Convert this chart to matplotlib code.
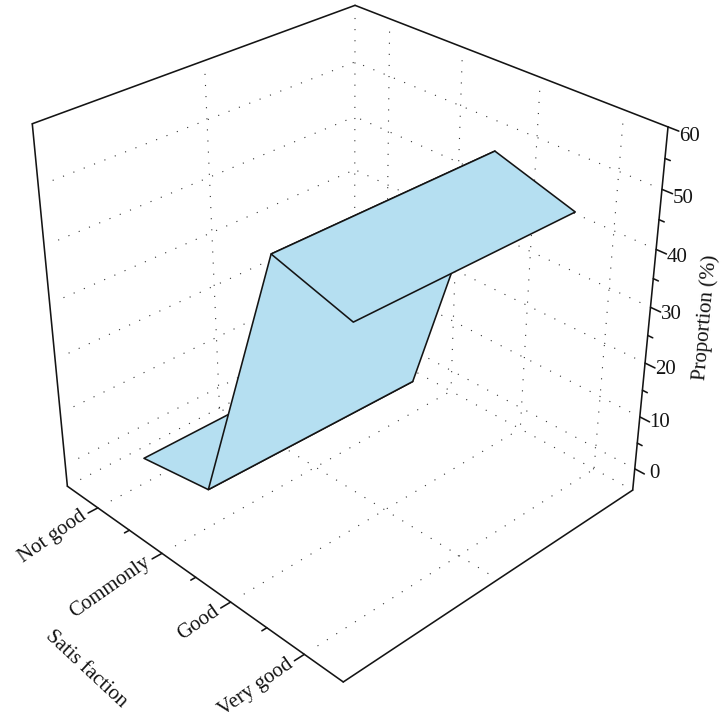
import numpy as np
import matplotlib
matplotlib.use('Agg')
import matplotlib.pyplot as plt
from mpl_toolkits.mplot3d import proj3d

plt.rcParams['font.family'] = ['Liberation Serif', 'DejaVu Serif']

# data
satisfaction = ['Not good', 'Commonly', 'Good', 'Very good']
sat_pos = [1, 2, 3, 4]
group_pos = [1, 2]
prop_group1 = [0.6, 2.9, 51.0, 47.2]
prop_group2 = [0.6, 2.2, 51.0, 46.8]
z_major = [0, 10, 20, 30, 40, 50, 60]
z_minor = [5, 15, 25, 35, 45, 55]
sat_minor = [1.5, 2.5, 3.5]

ink = '#141414'
fill = '#b5dff1'
dot_style = (0, (1, 9))

xlim = (0.786, 2.214)
y_front, y_back = 4.5, 0.5
zlim = (-4.2, 60)
xspan = xlim[1] - xlim[0]
yspan = y_front - y_back
xmid = (xlim[0] + xlim[1]) / 2

fig = plt.figure(figsize=(7.26, 7.27), dpi=100)
ax = fig.add_axes([-15.8 / 726, 44.2 / 727, 711.6 / 726, 711.6 / 727], projection='3d')
ax.computed_zorder = False
ax.set_xlim(*xlim)
ax.set_ylim(y_front, y_back)
ax.set_zlim(*zlim)
ax.set_box_aspect((1, 0.992, 0.996))
ax.set_proj_type('persp', focal_length=0.4876)
ax.view_init(31.31, -134.11)
ax.set_axis_off()


def solid(xs, ys, zs, lw=1.15):
    ax.plot(xs, ys, zs, color=ink, lw=lw, clip_on=False, zorder=3, solid_capstyle='round')


def dotted(xs, ys, zs):
    ax.plot(xs, ys, zs, color='#333333', lw=0.8, ls=dot_style, clip_on=False, zorder=1)


def label(x, y, z, s, rotation=0, ha='center'):
    # text at a 3d spot but with its own fixed angle
    px, py, _ = proj3d.proj_transform(x, y, z, ax.get_proj())
    ax.text2D(px, py, s, transform=ax.transData, rotation=rotation, ha=ha, va='center',
              rotation_mode='anchor', fontsize=15, color=ink)


# wall and floor gridlines, stopped a bit short of the outer edges
x_in = xlim[0] + 0.04 * xspan
y_in = y_front - 0.03 * yspan
z_top = zlim[1] - 2.2
for z in z_major[:-1] + [zlim[0]]:
    dotted([x_in, xlim[1]], [y_back, y_back], [z, z])
    dotted([xlim[1], xlim[1]], [y_in, y_back], [z, z])
dotted([xmid, xmid], [y_back, y_back], [z_top, zlim[0]])
dotted([xlim[1], xlim[1]], [y_back, y_back], [z_top, zlim[0]])
for y in sat_pos:
    dotted([xlim[1], xlim[1]], [y, y], [z_top, zlim[0]])
    dotted([x_in, xlim[1]], [y, y], [zlim[0], zlim[0]])
dotted([xmid, xmid], [y_in, y_back], [zlim[0], zlim[0]])

# surface
X, Y = np.meshgrid(group_pos, sat_pos)
Z = np.column_stack([prop_group1, prop_group2])
ax.plot_surface(X, Y, Z, rstride=1, cstride=1, color=fill, shade=False,
                edgecolor=ink, linewidth=1.15, zorder=2, clip_on=False)

# box
solid([xlim[0], xlim[0]], [y_back, y_front], [zlim[0], zlim[0]])
solid([xlim[0], xlim[1]], [y_front, y_front], [zlim[0], zlim[0]])
solid([xlim[0], xlim[0]], [y_back, y_back], [zlim[0], zlim[1]])
solid([xlim[1], xlim[1]], [y_front, y_front], [zlim[0], zlim[1]])
solid([xlim[0], xlim[1]], [y_back, y_back], [zlim[1], zlim[1]])
solid([xlim[1], xlim[1]], [y_back, y_front], [zlim[1], zlim[1]])

# satisfaction axis
for y, name in zip(sat_pos, satisfaction):
    solid([xlim[0], xlim[0] - 0.03 * xspan], [y, y], [zlim[0], zlim[0]])
    label(xlim[0] - 0.04 * xspan, y, zlim[0], name, rotation=35, ha='right')
for y in sat_minor:
    solid([xlim[0], xlim[0] - 0.015 * xspan], [y, y], [zlim[0], zlim[0]])
label(xlim[0] - 0.375 * xspan, 2.8, zlim[0], 'Satis faction', rotation=-43)

# proportion axis
for z in z_major:
    solid([xlim[1], xlim[1]], [y_front, y_front + 0.03 * yspan], [z, z])
    label(xlim[1], y_front + 0.06 * yspan, z * 0.98 + 1, str(z))
for z in z_minor:
    solid([xlim[1], xlim[1]], [y_front, y_front + 0.015 * yspan], [z, z])
label(xlim[1], y_front + 0.155 * yspan, 32.5, 'Proportion (%)', rotation=85)

plt.savefig('out.png')
